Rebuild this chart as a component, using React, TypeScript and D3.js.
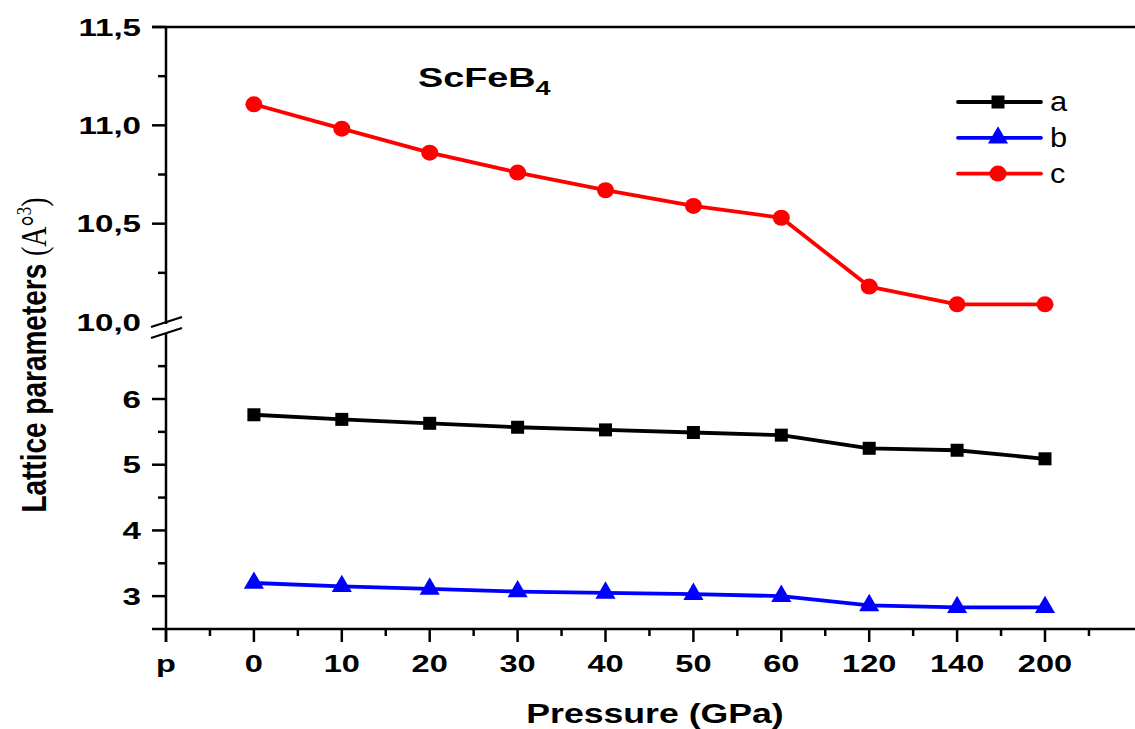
import React from "react";
import * as d3 from "d3";

// Pressure categories (GPa) and lattice parameters
const pressures = ["0", "10", "20", "30", "40", "50", "60", "120", "140", "200"];
const seriesA = [5.76, 5.69, 5.63, 5.57, 5.53, 5.49, 5.45, 5.25, 5.22, 5.09];
const seriesB = [3.2, 3.15, 3.11, 3.07, 3.05, 3.03, 3.0, 2.86, 2.83, 2.83];
const seriesC = [11.107, 10.983, 10.861, 10.76, 10.67, 10.59, 10.53, 10.18, 10.09, 10.09];

const upperTicks = [10.0, 10.5, 11.0, 11.5];
const upperMinor = [10.25, 10.75, 11.25];
const lowerTicks = [3, 4, 5, 6];
const lowerMinor = [3.5, 4.5, 5.5, 6.5];

const W = 1135;
const H = 729;
const FONT = "'Liberation Sans', Arial, sans-serif";
const STRETCH = 1.38; // wide lettering

const axisX = 166;
const axisBottom = 629;
const axisTop = 27;

// category index -> x (index -1 is the "p" slot)
const x = d3.scaleLinear().domain([-1, 9]).range([axisX, 1045]);
// broken y axis: lower segment and upper segment
const yLow = d3.scaleLinear().domain([2.5, 6]).range([axisBottom, 399]);
const yHigh = d3.scaleLinear().domain([10, 11.5]).range([322, axisTop]);

const fmt = (v: number) => v.toFixed(1).replace(".", ",");

type Marker = "square" | "triangle" | "circle";

function MarkerShape({ kind, cx, cy, color }: { kind: Marker; cx: number; cy: number; color: string }) {
  if (kind === "square") {
    return <rect x={cx - 6.5} y={cy - 6.5} width={13} height={13} fill={color} />;
  }
  if (kind === "triangle") {
    const tri = d3.symbol().type(d3.symbolTriangle).size(175)();
    return <path d={tri as string} transform={`translate(${cx},${cy})`} fill={color} />;
  }
  return <ellipse cx={cx} cy={cy} rx={8.5} ry={8} fill={color} />;
}

function WideText({
  x: tx,
  y: ty,
  anchor = "start",
  size,
  bold = true,
  sx = STRETCH,
  children,
}: {
  x: number;
  y: number;
  anchor?: "start" | "middle" | "end";
  size: number;
  bold?: boolean;
  sx?: number;
  children: React.ReactNode;
}) {
  return (
    <text
      transform={`translate(${tx},${ty}) scale(${sx},1)`}
      textAnchor={anchor}
      fontFamily={FONT}
      fontWeight={bold ? "bold" : "normal"}
      fontSize={size}
    >
      {children}
    </text>
  );
}

const series: { name: string; values: number[]; color: string; marker: Marker; scale: d3.ScaleLinear<number, number> }[] = [
  { name: "a", values: seriesA, color: "#000000", marker: "square", scale: yLow },
  { name: "b", values: seriesB, color: "#0000ff", marker: "triangle", scale: yLow },
  { name: "c", values: seriesC, color: "#ff0000", marker: "circle", scale: yHigh },
];

export default function App() {
  const xMinor: number[] = [];
  for (let i = -0.5; i <= 9.5; i += 1) xMinor.push(i);

  return (
    <svg width={W} height={H} style={{ position: "absolute", left: 0, top: 0, background: "#fff" }}>
      <rect width={W} height={H} fill="#fff" />

      {/* frame lines */}
      <line x1={axisX - 14} x2={W} y1={axisTop} y2={axisTop} stroke="#000" strokeWidth={2.5} />
      <line x1={axisX - 14} x2={W} y1={axisBottom} y2={axisBottom} stroke="#000" strokeWidth={2.5} />
      <line x1={axisX} x2={axisX} y1={axisTop} y2={324} stroke="#000" strokeWidth={2.5} />
      <line x1={axisX} x2={axisX} y1={333} y2={axisBottom + 13} stroke="#000" strokeWidth={2.5} />

      {/* axis break marks */}
      <line x1={151} y1={327} x2={182} y2={317} stroke="#000" strokeWidth={2.2} />
      <line x1={151} y1={338} x2={182} y2={328} stroke="#000" strokeWidth={2.2} />

      {/* y ticks, upper segment */}
      {upperTicks.map((t) => (
        <g key={"u" + t}>
          {t !== 10 && (
            <line x1={axisX - 14} x2={axisX} y1={yHigh(t)} y2={yHigh(t)} stroke="#000" strokeWidth={2.5} />
          )}
          <WideText x={141} y={yHigh(t) + 8.6} anchor="end" size={24}>
            {fmt(t)}
          </WideText>
        </g>
      ))}
      {upperMinor.map((t) => (
        <line key={"um" + t} x1={axisX - 8} x2={axisX} y1={yHigh(t)} y2={yHigh(t)} stroke="#000" strokeWidth={2.5} />
      ))}

      {/* y ticks, lower segment */}
      {lowerTicks.map((t) => (
        <g key={"l" + t}>
          <line x1={axisX - 14} x2={axisX} y1={yLow(t)} y2={yLow(t)} stroke="#000" strokeWidth={2.5} />
          <WideText x={141} y={yLow(t) + 8.6} anchor="end" size={24}>
            {t}
          </WideText>
        </g>
      ))}
      {lowerMinor.map((t) => (
        <line key={"lm" + t} x1={axisX - 8} x2={axisX} y1={yLow(t)} y2={yLow(t)} stroke="#000" strokeWidth={2.5} />
      ))}

      {/* x ticks */}
      {["p", ...pressures].map((lab, i) => (
        <g key={"x" + lab}>
          <line x1={x(i - 1)} x2={x(i - 1)} y1={axisBottom} y2={axisBottom + 13} stroke="#000" strokeWidth={2.5} />
          <WideText x={x(i - 1)} y={672} anchor="middle" size={24.5} sx={1.33}>
            {lab}
          </WideText>
        </g>
      ))}
      {xMinor.map((m) => (
        <line key={"xm" + m} x1={x(m)} x2={x(m)} y1={axisBottom} y2={axisBottom + 7} stroke="#000" strokeWidth={2.5} />
      ))}

      {/* axis titles */}
      <WideText x={655} y={723} anchor="middle" size={27} sx={1.32}>
        Pressure (GPa)
      </WideText>
      <text
        transform="translate(46,355) rotate(-90) scale(1,1.28)"
        textAnchor="middle"
        fontFamily={FONT}
        fontWeight="bold"
        fontSize={28}
      >
        Lattice parameters{" "}
        <tspan fontWeight="normal" fontFamily="'Liberation Serif', serif">(A°</tspan>
        <tspan fontWeight="normal" fontFamily="'Liberation Serif', serif" fontSize={17} dy={-12}>3</tspan>
        <tspan fontWeight="normal" fontFamily="'Liberation Serif', serif" dy={12}>)</tspan>
      </text>

      {/* compound label */}
      <WideText x={418} y={87} size={28} sx={1.35}>
        ScFeB<tspan fontSize={20} dy={8}>4</tspan>
      </WideText>

      {/* series */}
      {series.map((s) => {
        const line = d3
          .line<number>()
          .x((_, i) => x(i))
          .y((v) => s.scale(v));
        return (
          <g key={s.name}>
            <path d={line(s.values) as string} fill="none" stroke={s.color} strokeWidth={3.8} strokeLinejoin="round" />
            {s.values.map((v, i) => (
              <MarkerShape key={i} kind={s.marker} cx={x(i)} cy={s.scale(v)} color={s.color} />
            ))}
          </g>
        );
      })}

      {/* legend */}
      {series.map((s, i) => {
        const ly = 102 + i * 35.8;
        return (
          <g key={"lg" + s.name}>
            <line x1={958} x2={1041} y1={ly} y2={ly} stroke={s.color} strokeWidth={3.8} strokeLinecap="round" />
            <MarkerShape kind={s.marker} cx={998} cy={ly} color={s.color} />
            <WideText x={1050} y={ly + 9} size={28} bold={false} sx={1.1}>
              {s.name}
            </WideText>
          </g>
        );
      })}
    </svg>
  );
}
